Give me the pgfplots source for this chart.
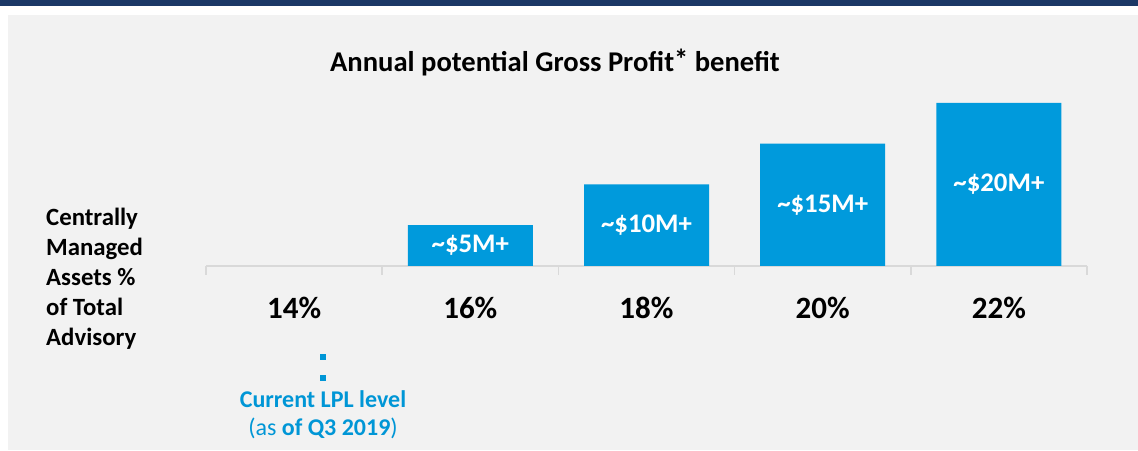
\documentclass[border=0pt]{standalone}
\usepackage{fontspec}
\setmainfont{Carlito}
\usepackage{pgfplots}
\pgfplotsset{compat=1.18}
\definecolor{barblue}{HTML}{009ADC}
\definecolor{txtblue}{HTML}{0096D6}
\definecolor{bggray}{HTML}{F2F2F2}
\definecolor{navy}{HTML}{1B3866}
\definecolor{axgray}{HTML}{D9D9D9}
\begin{document}
\begin{tikzpicture}[x=1pt,y=1pt]
\useasboundingbox (0,0) rectangle (1138,450);
\fill[white] (0,0) rectangle (1138,450);
\fill[bggray] (8,0) rectangle (1138,435);
\fill[navy] (0,444) rectangle (1138,450);
% title
\node[anchor=base, font=\fontsize{28.6}{33}\selectfont\bfseries] at (555,378) {Annual potential Gross Profit\raisebox{0.08em}{*} benefit};
% left label
\foreach \t [count=\i] in {Centrally,Managed,Assets \%,of Total,Advisory}{
  \node[anchor=base west, inner sep=0pt, font=\fontsize{24.8}{29}\selectfont\bfseries] at (46,{450-226-30*(\i-1)}) {\t};
}
\begin{axis}[
  at={(206pt,184pt)}, anchor=south west,
  scale only axis, width=881pt, height=163pt,
  xmin=-0.5, xmax=4.5, ymin=0, ymax=20,
  clip=false,
  axis x line*=bottom, axis y line=none,
  x axis line style={draw=axgray, line width=1.5pt},
  xtick={0,1,2,3,4},
  xticklabels={14\%,16\%,18\%,20\%,22\%},
  major tick length=0pt,
  minor xtick={-0.5,0.5,1.5,2.5,3.5,4.5},
  minor tick length=9pt,
  tick align=outside,
  minor tick style={draw=axgray, line width=1.5pt},
  xticklabel style={font=\fontsize{31}{36}\selectfont\bfseries, anchor=base, yshift=-53pt},
  /pgf/number format/assume math mode=true,
]
\addplot[ybar, bar width=125pt, fill=barblue, draw=none] coordinates {(1,5) (2,10) (3,15) (4,20)};
\addplot[draw=none, mark=none, nodes near coords, point meta=explicit symbolic,
  every node near coord/.append style={anchor=center, text=white, font=\fontsize{26.8}{31}\selectfont\bfseries}]
  coordinates {(1,2.5)[\textasciitilde\$5M+] (2,5)[\textasciitilde\$10M+] (3,7.5)[\textasciitilde\$15M+] (4,10)[\textasciitilde\$20M+]};
\addplot[only marks, mark=square*, mark size=2.6pt, color=txtblue] coordinates {(0.164,-11.17) (0.164,-13.74)};
\end{axis}
\node[anchor=base, text=txtblue, font=\fontsize{24}{28}\selectfont\bfseries] at (323,42) {Current LPL level};
\node[anchor=base, text=txtblue, font=\fontsize{24}{28}\selectfont] at (323,15) {(as \textbf{of Q3 2019})};
\end{tikzpicture}
\end{document}
